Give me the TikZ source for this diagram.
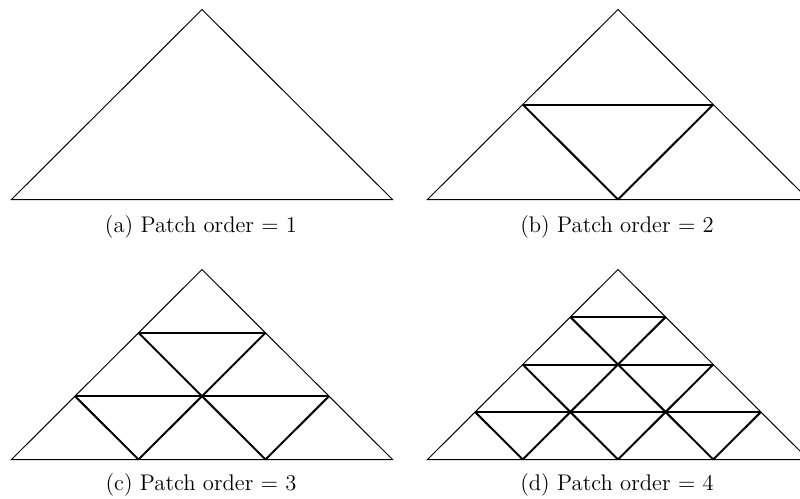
\documentclass[tikz,border=0pt]{standalone}
\tikzset{
  outerline/.style={line width=0.5pt, line join=miter},
  innerline/.style={line width=1pt},
  caption/.style={anchor=base, inner sep=0pt, font=\fontsize{11.3}{13}\selectfont}
}
\newcommand{\patchtri}[3]{%
  \ifnum#3>1
    \pgfmathtruncatemacro{\nm}{#3-1}%
    \foreach \k in {1,...,\nm}{%
      \draw[innerline] ({#1-190.5*\k/#3},{#2+190*\k/#3}) -- ({#1+190.5*\k/#3},{#2+190*\k/#3});
      \draw[innerline] ({#1+190.5*\k/#3},{#2+190*\k/#3}) -- ({#1-190.5+381*\k/#3},{#2+190});
      \draw[innerline] ({#1-190.5*\k/#3},{#2+190*\k/#3}) -- ({#1+190.5-381*\k/#3},{#2+190});
    }%
  \fi
  \draw[outerline] (#1,#2) -- ({#1-190.5},{#2+190}) -- ({#1+190.5},{#2+190}) -- cycle;
}
\begin{document}
\begin{tikzpicture}[x=0.5pt,y=-0.5pt]
\useasboundingbox (0,0) rectangle (800,499);
\patchtri{202}{9.5}{1}
\patchtri{618}{9.5}{2}
\patchtri{202}{269.5}{3}
\patchtri{618}{269.5}{4}
\node[caption] (capa) at (201,232.3) {(a) Patch order = 1};
\node[caption] (capb) at (617,232.3) {(b) Patch order = 2};
\node[caption] (capc) at (201,490) {(c) Patch order = 3};
\node[caption] (capd) at (617,490) {(d) Patch order = 4};
\end{tikzpicture}
\end{document}
